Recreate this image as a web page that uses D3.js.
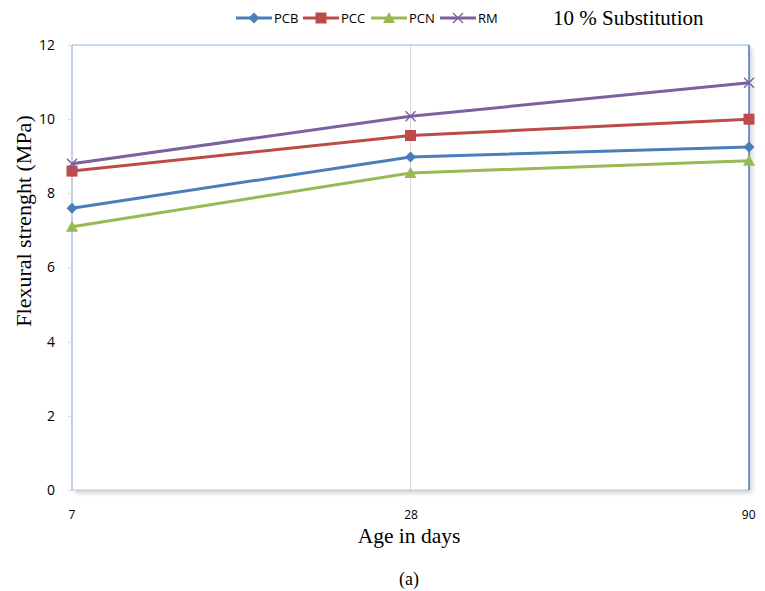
<!DOCTYPE html>
<html>
<head>
    <title>Flexural strength</title>
    <script type="text/javascript" src="https://d3js.org/d3.v7.min.js"></script>
    <style>
        body { margin: 0; background: #fff; }
    </style>
</head>
<body>
    <div id="div-svg"></div>

    <script type="text/javascript">
        // data
        let ages = ["7", "28", "90"];
        let seriesNames = ["PCB", "PCC", "PCN", "RM"];
        let pcb = [7.6, 8.98, 9.25];
        let pcc = [8.6, 9.56, 10.0];
        let pcn = [7.1, 8.55, 8.88];
        let rm = [8.8, 10.08, 10.98];
        let yTicks = [0, 2, 4, 6, 8, 10, 12];

        let allSeries = [pcb, pcc, pcn, rm];
        let colors = ["#4A7EBB", "#BE4B48", "#98B954", "#7D60A0"];
        let markers = ["diamond", "square", "triangle", "cross"];

        let width = 765;
        let height = 591;
        let padLeft = 72, padRight = 749, padTop = 45, padBottom = 490;

        let svg = d3.select("#div-svg")
            .append("svg")
            .attr("id", "svg-1")
            .attr("width", width)
            .attr("height", height);

        let xScale = d3.scalePoint()
            .domain(ages)
            .range([padLeft, padRight]);

        let yScale = d3.scaleLinear()
            .domain([0, 12])
            .range([padBottom, padTop]);

        // shadow of the plot box
        let defs = svg.append("defs");
        let filt = defs.append("filter").attr("id", "shadow")
            .attr("x", "-5%").attr("y", "-5%").attr("width", "110%").attr("height", "110%");
        filt.append("feGaussianBlur").attr("stdDeviation", 2);
        svg.append("rect")
            .attr("x", padLeft + 3).attr("y", padTop + 3)
            .attr("width", padRight - padLeft).attr("height", padBottom - padTop)
            .attr("fill", "#d0d0d0")
            .attr("filter", "url(#shadow)");
        svg.append("rect")
            .attr("x", padLeft).attr("y", padTop)
            .attr("width", padRight - padLeft).attr("height", padBottom - padTop)
            .attr("fill", "white");

        // vertical grid line at 28
        svg.append("line")
            .attr("x1", xScale("28")).attr("x2", xScale("28"))
            .attr("y1", padTop).attr("y2", padBottom + 3)
            .attr("stroke", "#d9d9d9")
            .attr("stroke-width", 1);

        // frame
        svg.append("line").attr("x1", padLeft).attr("x2", padRight).attr("y1", padTop).attr("y2", padTop)
            .attr("stroke", "#95B3D7").attr("stroke-width", 1.2);
        svg.append("line").attr("x1", padLeft).attr("x2", padLeft).attr("y1", padTop).attr("y2", padBottom)
            .attr("stroke", "#95B3D7").attr("stroke-width", 1.2);
        svg.append("line").attr("x1", padLeft).attr("x2", padRight).attr("y1", padBottom).attr("y2", padBottom)
            .attr("stroke", "#B9CDE5").attr("stroke-width", 1.2);
        svg.append("line").attr("x1", padRight).attr("x2", padRight).attr("y1", padTop).attr("y2", padBottom)
            .attr("stroke", "#4F81BD").attr("stroke-width", 1.6);

        // y axis
        let yAxis = d3.axisLeft(yScale)
            .tickValues(yTicks)
            .tickSize(4)
            .tickPadding(13);
        let gy = svg.append("g")
            .attr("transform", "translate(" + padLeft + ",0)")
            .style("font-family", "'Open Sans', 'Liberation Sans', sans-serif")
            .style("font-size", "14px")
            .call(yAxis);
        gy.select(".domain").remove();
        gy.selectAll(".tick line").attr("stroke", "#d9d9d9");
        gy.selectAll(".tick text").attr("fill", "#000");

        // x axis
        let xAxis = d3.axisBottom(xScale)
            .tickSize(0)
            .tickPadding(20);
        let gx = svg.append("g")
            .attr("transform", "translate(0," + padBottom + ")")
            .style("font-family", "'Open Sans', 'Liberation Sans', sans-serif")
            .style("font-size", "12px")
            .call(xAxis);
        gx.select(".domain").remove();
        gx.selectAll(".tick text").attr("fill", "#000");
        gx.selectAll(".tick text")
            .attr("text-anchor", function (d, i) { return i == 0 ? "start" : (i == ages.length - 1 ? "end" : "middle"); })
            .attr("dx", function (d, i) { return i == 0 ? -4 : (i == ages.length - 1 ? 6 : 0); });

        // axis titles
        svg.append("text")
            .attr("x", 409)
            .attr("y", 543)
            .attr("text-anchor", "middle")
            .style("font-family", "'Liberation Serif', 'DejaVu Serif', serif")
            .style("font-size", "21.5px")
            .text("Age in days");

        svg.append("text")
            .attr("transform", "rotate(-90)")
            .attr("x", -221)
            .attr("y", 31)
            .attr("text-anchor", "middle")
            .style("font-family", "'Liberation Serif', 'DejaVu Serif', serif")
            .style("font-size", "22px")
            .text("Flexural strenght (MPa)");

        svg.append("text")
            .attr("x", 409)
            .attr("y", 585)
            .attr("text-anchor", "middle")
            .style("font-family", "'Liberation Serif', 'DejaVu Serif', serif")
            .style("font-size", "18px")
            .text("(a)");

        svg.append("text")
            .attr("x", 553)
            .attr("y", 25)
            .style("font-family", "'Liberation Serif', 'DejaVu Serif', serif")
            .style("font-size", "21px")
            .text("10 % Substitution");

        // marker drawing
        function drawMarker(g, type, x, y, color) {
            if (type == "diamond") {
                g.append("path")
                    .attr("d", "M" + x + "," + (y - 5.5) + "L" + (x + 5.5) + "," + y + "L" + x + "," + (y + 5.5) + "L" + (x - 5.5) + "," + y + "Z")
                    .attr("fill", color);
            } else if (type == "square") {
                g.append("rect")
                    .attr("x", x - 5.5).attr("y", y - 5.5)
                    .attr("width", 11).attr("height", 11)
                    .attr("fill", color);
            } else if (type == "triangle") {
                g.append("path")
                    .attr("d", "M" + x + "," + (y - 6) + "L" + (x + 6) + "," + (y + 5) + "L" + (x - 6) + "," + (y + 5) + "Z")
                    .attr("fill", color);
            } else {
                g.append("path")
                    .attr("d", "M" + (x - 5) + "," + (y - 5) + "L" + (x + 5) + "," + (y + 5) + "M" + (x + 5) + "," + (y - 5) + "L" + (x - 5) + "," + (y + 5))
                    .attr("stroke", color)
                    .attr("stroke-width", 1.4)
                    .attr("fill", "none");
            }
        }

        let line = d3.line()
            .x(function (d, i) { return xScale(ages[i]); })
            .y(function (d) { return yScale(d); });

        allSeries.forEach(function (vals, s) {
            let g = svg.append("g");
            g.append("path")
                .datum(vals)
                .attr("d", line)
                .attr("fill", "none")
                .attr("stroke", colors[s])
                .attr("stroke-width", 3);
            vals.forEach(function (v, i) {
                drawMarker(g, markers[s], xScale(ages[i]), yScale(v), colors[s]);
            });
        });

        // legend
        let legendX = [236, 303, 371, 440];
        let legendY = 18;
        seriesNames.forEach(function (name, s) {
            let g = svg.append("g");
            g.append("line")
                .attr("x1", legendX[s]).attr("x2", legendX[s] + 36)
                .attr("y1", legendY).attr("y2", legendY)
                .attr("stroke", colors[s])
                .attr("stroke-width", 3);
            drawMarker(g, markers[s], legendX[s] + 18, legendY, colors[s]);
            g.append("text")
                .attr("x", legendX[s] + 38)
                .attr("y", legendY + 5)
                .style("font-family", "'Open Sans', 'Liberation Sans', sans-serif")
                .style("font-size", "13px")
                .text(name);
        });
    </script>
</body>
</html>
